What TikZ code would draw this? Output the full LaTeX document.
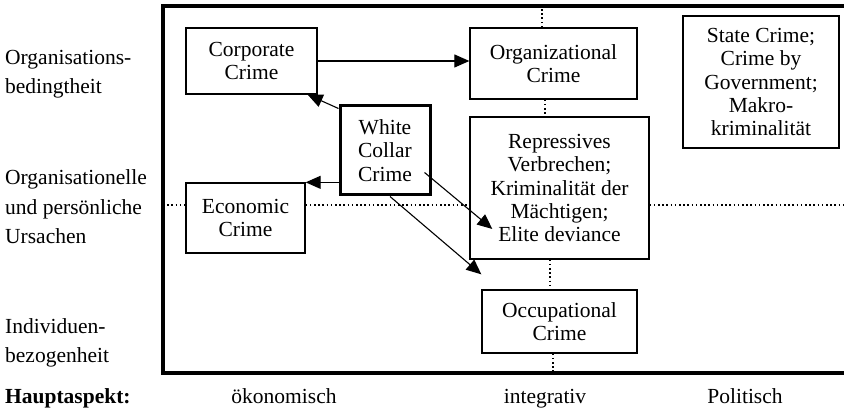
\documentclass[tikz,border=0pt]{standalone}
\usepackage{fontspec}
\setmainfont{Liberation Serif}
\usetikzlibrary{arrows.meta}

\tikzset{
  crimebox/.style={draw, line width=1.3pt, inner sep=0pt, align=center,
    font=\fontsize{21.5}{23.3}\selectfont},
  wccbox/.style={crimebox, line width=3pt},
  sidelabel/.style={inner sep=0pt, align=left, anchor=west,
    font=\fontsize{21.5}{29.5}\selectfont},
  axislabel/.style={inner sep=0pt, anchor=base, font=\fontsize{21.5}{23.3}\selectfont},
  arr/.style={line width=1.1pt, -{Triangle[length=15pt, width=13pt]}},
  dotline/.style={line width=1.6pt, dash pattern=on 1.6pt off 2.6pt},
}

\begin{document}
\begin{tikzpicture}[x=1pt, y=-1pt]
	\useasboundingbox (0,0) rectangle (844,411);
	
	% frame, open to the right
	\draw[line width=4.5pt] (844,6) -- (163,6) -- (163,373) -- (844,373);
	\coordinate (ftop) at (163,6);
	\coordinate (fbot) at (163,373);
	\coordinate (fmid) at (163,205);
	\coordinate (rmid) at (844,205);
	
	% crime types
	\node[crimebox, minimum width=131pt, minimum height=66pt] (corp) at (251.5,61) {Corporate\\Crime};
	\node[crimebox, minimum width=167pt, minimum height=71pt] (org) at (553.5,63.5) {Organizational\\Crime};
	\node[crimebox, minimum width=156pt, minimum height=132pt] (state) at (761,82) {State Crime;\\Crime by\\Government;\\Makro-\\kriminalität};
	\node[wccbox, minimum width=90pt, minimum height=89pt] (wcc) at (385,150.5) {White\\Collar\\Crime};
	\node[crimebox, minimum width=119pt, minimum height=70pt] (econ) at (245.5,218) {Economic\\Crime};
	\node[crimebox, minimum width=179pt, minimum height=142pt] (rep) at (559.5,188) {Repressives\\Verbrechen;\\Kriminalität der\\Mächtigen;\\Elite deviance};
	\node[crimebox, minimum width=155pt, minimum height=63pt] (occ) at (559.5,321.5) {Occupational\\Crime};
	
	% dotted separators
	\draw[dotline] ([xshift=-11.5pt]org.north) -- ([xshift=-11.5pt]org.north |- ftop);
	\draw[dotline] ([xshift=-8.5pt]org.south) -- ([xshift=-8.5pt]org.south |- rep.north);
	\draw[dotline] ([xshift=-9.5pt]rep.south) -- ([xshift=-9.5pt]rep.south |- occ.north);
	\draw[dotline] ([xshift=-6.5pt]occ.south) -- ([xshift=-6.5pt]occ.south |- fbot);
	\draw[dotline] (fmid) -- (econ.west |- fmid);
	\draw[dotline] (econ.east |- fmid) -- (rep.west |- fmid);
	\draw[dotline] (rep.east |- fmid) -- (rmid);
	
	% arrows
	\draw[arr] (corp.east) -- (org.west |- corp.east);
	\draw[arr] ([yshift=-4pt]wcc.north west) -- ([xshift=-10pt]corp.south east);
	\draw[arr] (wcc.west |- econ.north east) -- (econ.north east);
	\draw[arr] ([shift={(-7,22)}]wcc.east) -- ([shift={(23,41)}]rep.west);
	\draw[arr] ([xshift=5pt]wcc.south) -- ([shift={(0,-15)}]occ.north west);
	
	% left labels
	\node[sidelabel] (orgbed) at (5,74) {Organisations-\\bedingtheit};
	\node[sidelabel] (persurs) at (5,207) {Organisationelle\\und persönliche\\Ursachen};
	\node[sidelabel] (indbez) at (5,343) {Individuen-\\bezogenheit};
	\node[axislabel, anchor=base west] (haupt) at (5,404) {\bfseries Hauptaspekt:};
	\foreach \lbl/\xx in {ökonomisch/284, integrativ/545, Politisch/745} {
		\node[axislabel] (aspect\xx) at (\xx,404) {\lbl};
	}
\end{tikzpicture}
\end{document}
